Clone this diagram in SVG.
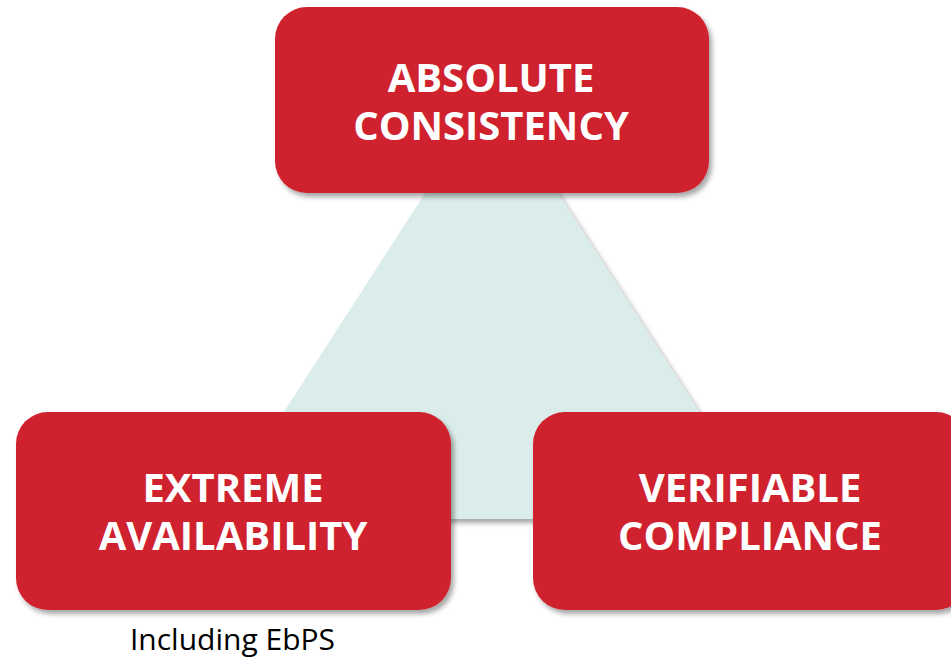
<svg xmlns="http://www.w3.org/2000/svg" width="951" height="660" viewBox="0 0 951 660">
<defs>
<filter id="sh" x="-10%" y="-10%" width="125%" height="130%">
<feDropShadow dx="3" dy="4" stdDeviation="2.5" flood-color="#000" flood-opacity="0.35"/>
</filter>
<style>
.box{fill:#CF202F;filter:url(#sh)}
.lbl{fill:#fff;font-family:"Open Sans","Noto Sans",sans-serif;font-weight:bold;font-size:40px;text-anchor:middle}
.note{fill:#000;font-family:"Open Sans","Noto Sans",sans-serif;font-size:30px;text-anchor:middle}
</style>
</defs>
<rect width="951" height="660" fill="#fff"/>
<g id="triangle">
<polygon points="491.5,90 215,519 768,519" fill="#DBEDEA" filter="url(#sh)"/>
</g>
<g id="connectors"></g>
<g id="absolute-consistency">
<rect class="box" x="275" y="7" width="434" height="186" rx="32"/>
<text class="lbl" x="491" y="92">ABSOLUTE</text>
<text class="lbl" x="491" y="140">CONSISTENCY</text>
</g>
<g id="extreme-availability">
<rect class="box" x="16" y="412" width="435" height="198" rx="32"/>
<text class="lbl" x="233" y="502">EXTREME</text>
<text class="lbl" x="233" y="550">AVAILABILITY</text>
<text class="note" x="232.5" y="650">Including EbPS</text>
</g>
<g id="verifiable-compliance">
<rect class="box" x="533" y="412" width="435" height="198" rx="32"/>
<text class="lbl" x="750" y="502">VERIFIABLE</text>
<text class="lbl" x="750" y="550">COMPLIANCE</text>
</g>
</svg>
